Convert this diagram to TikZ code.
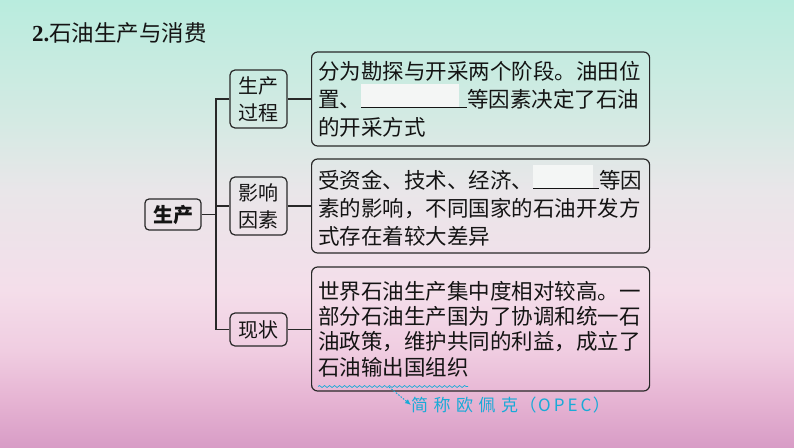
\documentclass[tikz,border=0pt]{standalone}
\usepackage{fontspec}
\newfontfamily\cjk{Noto Sans CJK SC}
\newfontfamily\tnr{Liberation Serif}
\usetikzlibrary{decorations.pathmorphing,arrows.meta}
\definecolor{cT}{RGB}{185,236,222}
\definecolor{cT2}{RGB}{212,234,227}
\definecolor{cM}{RGB}{233,230,233}
\definecolor{cP1}{RGB}{244,222,234}
\definecolor{cP2}{RGB}{240,205,225}
\definecolor{cP3}{RGB}{230,180,211}
\definecolor{cB}{RGB}{216,156,198}
\definecolor{ink}{RGB}{20,20,20}
\definecolor{edge}{RGB}{40,40,40}
\definecolor{blankc}{RGB}{244,246,245}
\definecolor{cyanc}{RGB}{25,170,215}
\pgfdeclareverticalshading{bgshade}{100bp}{color(0bp)=(cB); color(25bp)=(cB); color(30.3bp)=(cP3); color(35.8bp)=(cP2); color(42.6bp)=(cP1); color(53.7bp)=(cM); color(61.6bp)=(cT2); color(75bp)=(cT); color(100bp)=(cT)}
\newcommand\blankslot[2]{\makebox[#1][l]{\rlap{\textcolor{blankc}{\rule[0.6pt]{#2}{23pt}}}\rule[-0.3pt]{#1}{0.8pt}}}
\begin{document}
\begin{tikzpicture}[x=1pt,y=-1pt,
  bigbox/.style={draw=edge,line width=1.2pt,rounded corners=6pt,anchor=west,
    minimum width=338pt,text width=325pt,inner xsep=6.5pt,align=left,
    text=ink,font=\cjk\fontsize{21.5}{28}\selectfont},
  midbox/.style={draw=edge,line width=1.2pt,rounded corners=5pt,
    minimum width=57pt,inner xsep=0pt,inner ysep=0pt,align=center,
    text=ink,font=\cjk\fontsize{20}{27}\selectfont},
  rootbox/.style={draw=edge,line width=1.2pt,rounded corners=4pt,
    minimum width=56pt,minimum height=31pt,inner sep=0pt,
    text=ink,font=\cjk\bfseries\fontsize{20}{24}\selectfont},
  link/.style={draw=edge,line width=1.2pt}]
\useasboundingbox (0,0) rectangle (794,447);
\shade[shading=bgshade] (0,0) rectangle (794,447);

\node[anchor=west,text=ink,inner sep=0pt] (title) at (32,33)
  {\tnr\bfseries\fontsize{23}{26}\selectfont 2.\cjk\mdseries\fontsize{22.5}{26}\selectfont 石油生产与消费};

\node[rootbox] (root) at (173,214.5) {生产};

\node[midbox,minimum height=58pt] (p1) at (258.5,99) {生产\\过程};
\node[midbox,minimum height=58pt] (p2) at (258.5,206) {影响\\因素};
\node[midbox,minimum height=33pt] (p3) at (258.5,329.5) {现状};

\node[bigbox,minimum height=94pt] (b1) at (311,99)
  {分为勘探与开采两个阶段。油田位\\置、\blankslot{106pt}{98pt}等因素决定了石油\\的开采方式};
\node[bigbox,minimum height=94pt] (b2) at (311,206)
  {受资金、技术、经济、\blankslot{66pt}{60pt}等因\\素的影响，不同国家的石油开发方\\式存在着较大差异};
\node[bigbox,minimum height=124pt,font=\cjk\fontsize{21.5}{25.3}\selectfont] (b3) at (311,329)
  {世界石油生产集中度相对较高。一\\部分石油生产国为了协调和统一石\\油政策，维护共同的利益，成立了\\石油输出国组织};

\coordinate (j) at (216,214.5);
\draw[link] (root.east) -- (j);
\draw[link] (p1.west) -| (j) |- (p3.west);
\draw[link] (j |- p2.west) -- (p2.west);
\draw[link] (p1.east) -- (b1.west);
\draw[link] (p2.east) -- (b2.west);
\draw[link] (p3.east) -- (b3.west |- p3.east);

% wavy underline
\coordinate (ws) at (318,386.5);
\coordinate (we) at (468,386.5);
\draw[cyanc,line width=0.7pt,decorate,decoration={snake,amplitude=1pt,segment length=5pt}] (ws) -- (we);
\coordinate (w) at (389,387);

\node[anchor=west,text=cyanc,inner sep=0pt,font=\cjk\fontsize{17}{20}\selectfont] (opec) at (411,405)
  {简\hspace{5.5pt}称\hspace{5.5pt}欧\hspace{5.5pt}佩\hspace{5.5pt}克\hspace{1.5pt}（\hspace{1.5pt}O\hspace{3pt}P\hspace{3pt}E\hspace{3pt}C\hspace{1.5pt}）};
\draw[cyanc,line width=1pt,dash pattern=on 1.6pt off 1.4pt,-{Latex[length=6pt,width=5pt]}] (w) -- (opec.west);
\end{tikzpicture}
\end{document}
